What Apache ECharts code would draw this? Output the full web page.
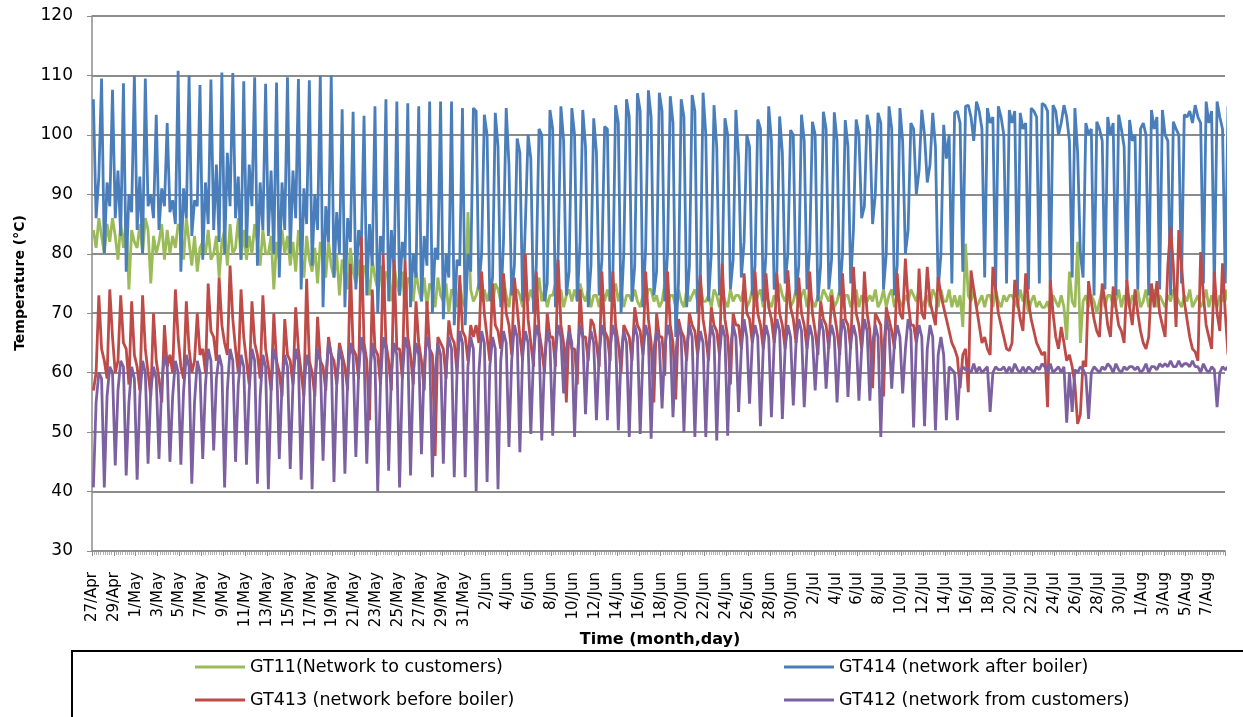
<!DOCTYPE html>
<html><head><meta charset="utf-8">
<script src="https://cdn.jsdelivr.net/npm/echarts@6/dist/echarts.min.js"></script>
<style>html,body{margin:0;padding:0;background:#fff}#c{width:1243px;height:717px}</style>
</head><body><div id="c"></div><script>
// Tick labels: every 2 days starting 27/Apr (day 0)
const dateLabels = ['27/Apr','29/Apr','1/May','3/May','5/May','7/May','9/May','11/May','13/May','15/May','17/May','19/May','21/May','23/May','25/May','27/May','29/May','31/May','2/Jun','4/Jun','6/Jun','8/Jun','10/Jun','12/Jun','14/Jun','16/Jun','18/Jun','20/Jun','22/Jun','24/Jun','26/Jun','28/Jun','30/Jun','2/Jul','4/Jul','6/Jul','8/Jul','10/Jul','12/Jul','14/Jul','16/Jul','18/Jul','20/Jul','22/Jul','24/Jul','26/Jul','28/Jul','30/Jul','1/Aug','3/Aug','5/Aug','7/Aug'];
const seriesNames = ['GT11(Network to customers)','GT414 (network after boiler)','GT413 (network before boiler)','GT412 (network from customers)'];
// Readings, 4 samples per day (03h, 09h, 15h, 21h), day 0 = 27/Apr
const gt11 = [
84,81,86,83, 80,85,82,86, 83,79,85,81, 86,74,84,82, 81,85,80,86, 84,75,83,80, 82,85,79,84, 80,83,81,85, 84,79,86,82, 78,83,77,81,
82,80,84,79, 80,83,76,82, 84,78,85,80, 81,86,79,84, 79,83,80,85, 82,78,84,80, 80,83,74,82, 79,84,80,83, 78,82,77,84, 80,76,83,79,
77,81,75,82, 79,76,82,78, 76,80,73,79, 78,74,81,77, 75,79,73,78, 77,73,79,76, 74,78,72,77, 76,72,78,75, 73,77,71,76, 75,72,77,74,
72,76,71,75, 74,71,76,73, 72,75,70,74, 73,71,75,72, 71,87,74,72, 73,75,72,74, 72,74,71,75, 74,72,76,73, 71,75,73,74, 73,71,75,72,
74,72,73,76, 72,74,71,73, 73,75,72,74, 71,73,74,72, 74,72,75,73, 72,74,71,73, 73,71,74,72, 74,72,73,75, 72,74,71,73, 73,72,74,72,
71,73,72,74, 74,72,73,71, 72,75,71,73, 73,71,74,72, 71,74,72,73, 74,72,75,72, 72,73,71,74, 73,71,74,72, 71,74,72,73, 73,72,75,71,
72,74,71,73, 74,71,73,72, 71,73,72,75, 73,72,74,71, 72,74,71,73, 74,71,73,72, 71,73,72,74, 73,72,74,71, 72,74,71,73, 73,71,72,74,
71,73,72,72, 73,72,74,71, 72,74,71,73, 74,71,73,72, 71,73,72,74, 73,72,74,71, 72,73,71,74, 73,71,74,72, 72,74,71,73, 71,73,67.7,81.7,
73,72,74,71, 72,73,71,73, 73,71,74,72, 71,73,72,73, 73,72,71,74, 72,73,70,72, 73,71,72,71, 71,72,70,73, 72,71,73,71, 65.5,77,72,71,
82,65,72,73, 71,73,72,70, 72,74,71,73, 73,71,72,74, 71,73,72,71, 73,72,74,71, 72,74,71,73, 74,71,73,72, 71,73,72,74, 73,72,71,73,
72,74,71,72, 73,71,72,74, 71,73,72,71, 73,72,74,72
];
const gt414 = [
106,86,93,109.5, 80,92,88,107.6, 86,94,83,108.7, 77,90,87,110, 84,93,80,109.5, 88,90,86,103.4, 84,91,88,102, 87,89,85,110.8, 77,91,86,110, 83,89,88,108.4,
79,92,85,109.3, 84,95,82,110.5, 80,97,88,110.4, 86,93,79,109, 81,95,88,109.7, 78,92,84,108.6, 83,94,80,108.8, 76,92,84,109.7, 80,94,86,109.4, 74,91,85,109.2,
78,90,84,110, 71,88,82,110, 76,87,80,104.3, 71,86,82,103.9, 74,84,81,103.2, 73,85,78,104.8, 70,83,80,106, 72,84,77,105.6, 73,82,79,105.3, 71,80,76,104.8,
72,83,78,105.6, 70,81,79,105.6, 69,80,76,105.6, 68,79,78,104.5, 68,80,77,104.5, 104,74,80,103.4, 100,72,76,103.7, 98,71,82,104.5, 95,73,78,99.4, 97,72,85,100,
96,70,78,101, 100,72,75,104.2, 101,71,80,104.8, 99,73,77,104.5, 100,72,82,104.2, 98,71,78,102.8, 97,73,79,101.4, 101,72,76,105, 102,70,80,106, 103,72,78,107,
104,71,81,107.5, 103,73,77,107.1, 104,72,80,106.5, 102,66,75,106, 103,71,78,106.7, 104,70,76,107.1, 100,72,80,105, 98,73,76,102.8, 100,74,79,104.2, 96,76,82,100,
98,73,78,102.6, 101,72,80,104.8, 99,74,77,103.1, 97,75,80,100.8, 100,73,78,103.4, 99,74,81,102.2, 100,72,78,103.9, 101,74,79,103.8, 99,73,80,102.5, 98,75,84,102.6,
100,86,88,103.4, 101,85,90,103.7, 102,74,80,104.8, 101,73,78,104.5, 99,80,84,102, 101,90,94,104.2, 100,92,95,103.7, 98,74,80,101.7, 96,100,75,103.7, 104,102,77,104.8,
105,103,99,105.6, 104,101,76,104.5, 102,103,74,104.8, 103,100,75,104.2, 102,104,73,103.7, 101,102,74,104.5, 104,103,75,105.3, 105,104,74,105, 104,100,102,105, 103,99,76,104.5,
97,80,76,102, 100,101,73,102.2, 101,99,74,103, 100,102,73,103.4, 101,98,75,102.5, 99,100,74,101, 102,100,73,104.2, 101,103,74,104.2, 100,99,73,102.2, 101,100,75,103.4,
103,104,102,105, 103,102,75,105.6, 102,104,74,105.6, 103,101,75,104.8
];
const gt413 = [
57,60,73,64, 62,59,74,66, 60,62,73,65, 64,58,72,63, 61,57,73,64, 60,56,70,62, 59,55,68,61, 63,60,74,66, 61,59,72,64, 60,62,70,63,
64,60,75,67, 66,62,76,68, 65,63,78,69, 64,60,74,66, 62,58,72,65, 63,59,73,64, 61,57,70,62, 60,56,69,63, 62,58,71,64, 60,56,75.8,62,
60,56,69.4,62, 61,57,66,63, 62,58,65,63, 61,57,78.3,64, 63,59,82.9,65, 62,52,74,64, 63,58,80,65, 62,57,79,64, 64,59,79,66, 63,58,72,65,
62,57,72,64, 63,46,66,65, 64,59,68.8,66, 65,60,76.4,67, 66,62,68,66, 68,65,77,70, 66,62,75,68, 67,64,76.7,70, 68,63,76,71, 66,62,80,69,
65,61,77,67, 64,60,70,66, 66,61,79,68, 65,55,68,64, 64,58,74,66, 66,62,69,68, 65,61,77,67, 66,62,77,68, 65,60,68,67, 66,62,71,68,
67,63,77,69, 65,55,70,66, 66,59.5,77,68, 65,55.5,69,67, 66,62,70,68, 67,63,76.4,69, 66,62,71,68, 67,63,78.3,69, 66,58,70,68, 68,64,76.7,70,
69,65,77,70, 68,64,76.7,71, 69,65,76.7,70, 68,64,77.2,71, 69,65,76,70, 68,64,77,70, 67,63,72,69, 68,64,73,70, 67,63,76.7,69, 68,64,77.8,70,
68,64,77,70, 67,57.4,70,69, 68,56,71,69, 67,64,76.7,70, 69,79.2,72,68, 68,65,77.5,70, 69,77.8,72,70, 68,76.1,73,71, 69,67,65,64, 62.6,57.4,63,64,
56.7,77.2,74,71, 68,65,66,64, 63,77.8,74,70, 68,66,64,63.7, 65,75.6,72,69, 67,76.7,72,69, 67,65,64,63, 63.5,54.2,75.6,70, 66,64,67.7,65, 62,63,61,58,
51.4,53,62,61, 75.4,72,69,67, 66,75,72,68, 66,74.5,71,68, 67,65,75.6,71, 68,74,70,67, 65,64,66,75, 71,75.4,70,68, 66,78,84.6,78, 67.7,84,78,72,
69,66,64,63.5, 62,80.3,73,68, 66,64,77,70, 67,78.4,70,63
];
const gt412 = [
40.7,55,60,59, 40.7,56,61,60, 44.4,57,62,61, 42.7,55,61,59, 42,56,62,60, 44.7,57,61,59, 45.5,58,63,61, 45,56,62,60, 44.5,57,63,61, 41.3,55,62,60,
45.5,58,64,62, 46.9,59,63,61, 40.7,57,64,62, 45,58,63,61, 44.5,57,64,62, 41.3,56,63,61, 40.4,57,64,62, 45.5,58,63,61, 43.8,58,64,62, 42,57,63,61,
40.4,58,64,62, 45.2,59,65,63, 41.6,58,64,62, 43,59,65,63, 45.8,60,66,63, 44.7,59,65,62, 40,58,66,64, 43.5,60,65,63, 40.7,59,66,64, 42.7,60,65,63,
46.3,61,66,64, 42.4,60,65,63, 44.7,61,66,64, 42.4,60,67,65, 42.4,61,66,64, 40,60,67,65, 41.6,61,66,64, 40.4,62,67,65, 47.5,62,68,66, 46.6,63,67,65,
49.7,63,68,66, 48.6,62,67,65, 49.4,63,68,66, 56.5,64,67,65, 49.2,63,68,66, 53,64,67,65, 52,63,68,66, 52,64,68,66, 50.3,63,67,65, 49.2,64,68,66,
49.7,63,68,66, 48.9,64,67,65, 54,64,68,66, 52.5,63,68,66, 50,64,68,66, 49.2,63,67,65, 49.2,64,68,66, 48.6,63,68,66, 49.4,64,68,66, 53.4,64,69,66,
54.8,65,68,66, 51,64,68,66, 52.5,65,69,67, 52.2,64,68,66, 54.5,65,69,67, 54.2,64,68,66, 57,65,69,67, 57.3,65,68,66, 55,64,69,67, 55.9,65,68,66,
55.3,64,69,67, 55.3,65,68,66, 49.2,64,69,67, 57.3,65,68,66, 56.5,64,69,67, 50.8,65,68,66, 51,64,68,66, 50.3,63,66,63, 52,61,60.5,60, 52,60,61,60.5,
60.5,60,61.5,60, 61,60,60.5,61, 53.4,60,61,60.5, 60.5,61,60,61, 60,61.5,60.5,60, 61,60,61,60.5, 60,61,60.5,61.5, 61,60,61.5,60, 60.5,61,60,61, 51.6,60,53.4,60.5,
60,61,60.5,59.5, 52.2,60,61,60.5, 60,61,60.5,61.5, 61,60,61.5,60.5, 60,61,60.5,61, 61,60.5,61,60, 60.5,61.5,60,61, 61,60.5,61.5,61, 61.5,61,62,61, 61,62,61,61.5,
61.5,61,62,61, 61,60,61.5,60.5, 60,61,60.5,54.2, 60,61,60.5,61
];
const colors = ['#9BBB59','#4A7EBB','#BE4B48','#7D60A0'];
const values = [gt11, gt414, gt413, gt412];

const chart = echarts.init(document.getElementById('c'), null, {renderer:'canvas'});
const FONT = 'DejaVu Sans';
const grey = '#8c8c8c';
chart.setOption({
  animation:false,
  backgroundColor:'#fff',
  grid:{left:92, right:18, top:16, bottom:166},
  xAxis:{
    type:'value', min:0, max:103.6, interval:2,
    axisLine:{show:true, lineStyle:{color:grey, width:1.5}},
    axisTick:{show:true, length:5, lineStyle:{color:grey}},
    minorTick:{show:true, splitNumber:10, length:4, lineStyle:{color:'#a0a0a0', width:0.8}},
    splitLine:{show:false},
    axisLabel:{rotate:90, margin:21, fontFamily:FONT, fontSize:15, color:'#000', showMaxLabel:false,
      formatter:v=>{const k=Math.round(v/2); return dateLabels[k]||'';}}
  },
  yAxis:{
    type:'value', min:30, max:120, interval:10,
    axisLine:{show:true, lineStyle:{color:grey, width:1.5}},
    axisTick:{show:true, length:5, lineStyle:{color:grey}},
    splitLine:{show:true, lineStyle:{color:grey, width:1.8}},
    axisLabel:{margin:19, fontFamily:FONT, fontSize:17, color:'#000'}
  },
  legend:[
    {data:[seriesNames[0],seriesNames[2]], orient:'vertical', left:195, top:657, padding:0, itemWidth:50, itemHeight:3, itemGap:13, icon:'rect',
      textStyle:{fontFamily:FONT, fontSize:17.5, color:'#000', lineHeight:20}},
    {data:[seriesNames[1],seriesNames[3]], orient:'vertical', left:784, top:657, padding:0, itemWidth:50, itemHeight:3, itemGap:13, icon:'rect',
      textStyle:{fontFamily:FONT, fontSize:17.5, color:'#000', lineHeight:20}}
  ],
  graphic:[
    {type:'rect', shape:{x:72, y:651, width:1220, height:120}, style:{fill:'none', stroke:'#000', lineWidth:2}, silent:true, z:-1},
    {type:'text', x:660, y:640, style:{text:'Time (month,day)', font:'bold 16px "DejaVu Sans"', fill:'#000', textAlign:'center', textVerticalAlign:'middle'}},
    {type:'text', x:20, y:283, rotation:Math.PI/2, style:{text:'Temperature (°C)', font:'bold 14px "DejaVu Sans"', fill:'#000', textAlign:'center', textVerticalAlign:'middle'}}
  ],
  series: values.map((arr,s)=>({
    name:seriesNames[s], type:'line', showSymbol:false, symbol:'none',
    color:colors[s], lineStyle:{color:colors[s], width:2.8},
    data:arr.map((v,i)=>[(i+0.5)/4, v])
  }))
});
</script></body></html>
